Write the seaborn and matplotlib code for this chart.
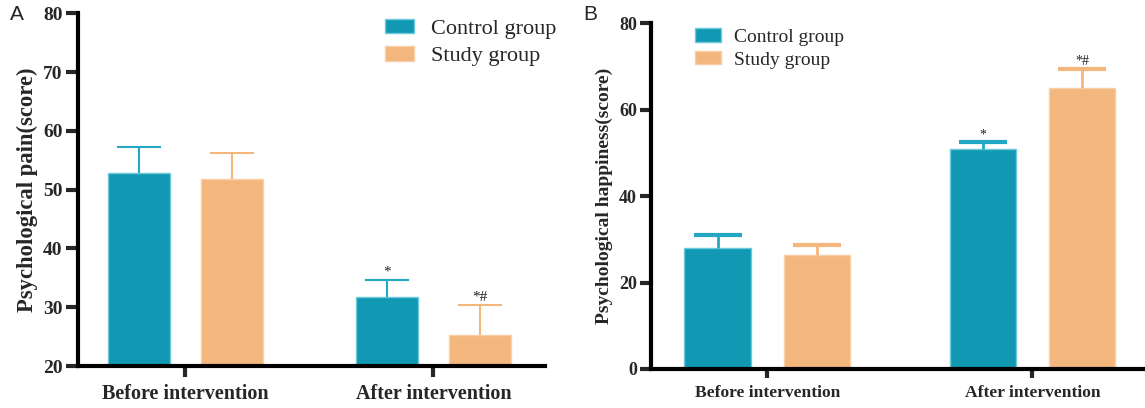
import matplotlib
matplotlib.use("Agg")
import matplotlib.pyplot as plt
import seaborn as sns
import pandas as pd
import numpy as np

# ---------------- data ----------------
timepoints = ["Before intervention", "After intervention"]
groups = ["Control group", "Study group"]

pain_control_mean = [52.9, 31.8]
pain_control_sd = [4.3, 2.8]
pain_study_mean = [51.9, 25.3]
pain_study_sd = [4.3, 5.0]

happy_control_mean = [27.9, 50.9]
happy_control_sd = [3.0, 1.6]
happy_study_mean = [26.4, 65.1]
happy_study_sd = [2.3, 4.3]

pain_marks = ["", "*", "", "*#"]      # order: control-before, control-after, study-before, study-after
happy_marks = ["", "*", "", "*#"]

colors = {"Control group": "#1199b4", "Study group": "#f3b77d"}
edge_colors = {"Control group": "#6cc9db", "Study group": "#f8cfa6"}
err_colors = {"Control group": "#22a8c2", "Study group": "#f3b77d"}


def make_df(cm, cs, sm, ss):
    rows = []
    for g, means, sds in [("Control group", cm, cs), ("Study group", sm, ss)]:
        for t, m, s in zip(timepoints, means, sds):
            rows.append({"time": t, "group": g, "mean": m, "sd": s})
    return pd.DataFrame(rows)


df_pain = make_df(pain_control_mean, pain_control_sd, pain_study_mean, pain_study_sd)
df_happy = make_df(happy_control_mean, happy_control_sd, happy_study_mean, happy_study_sd)

sns.set_style("ticks")
plt.rcParams["font.family"] = ["Liberation Serif", "DejaVu Serif"]

fig = plt.figure(figsize=(11.45, 4.08), dpi=100)

axA = fig.add_axes([0.0681, 0.1029, 0.476 - 0.0681, 0.967 - 0.1029])
axB = fig.add_axes([0.5683, 0.0956, 1.0 - 0.5683, 0.943 - 0.0956])


def draw(ax, df, marks, ylim, yticks, xlim, tick_fs, xtick_fs, ylabel, ylabel_fs,
         leg_fs, leg_anchor, handlelen, handleh, labelsp, textpad, cap_lw, err_lw,
         mark_fs, capsize, tick_len, mark_off):
    sns.barplot(data=df, x="time", y="mean", hue="group", order=timepoints,
                hue_order=groups, palette=colors, errorbar=None, width=0.75,
                gap=1 / 3, ax=ax, linewidth=1.0, saturation=1.0)
    # edges + error bars from the bar patches
    patches = [p for p in ax.patches if p.get_width() > 0][:4]
    order = [(g, t) for g in groups for t in timepoints]
    for p, (g, t), mk in zip(patches, order, marks):
        p.set_edgecolor(edge_colors[g])
        row = df[(df.group == g) & (df.time == t)].iloc[0]
        xc = p.get_x() + p.get_width() / 2
        eb = ax.errorbar(xc, row["mean"], yerr=[[0], [row["sd"]]], fmt="none",
                         ecolor=err_colors[g], elinewidth=err_lw, capsize=capsize,
                         capthick=cap_lw, zorder=1)
        caps = eb.lines[1]
        if len(caps) >= 2:
            caps[0].set_visible(False)
        if mk:
            ax.text(xc, row["mean"] + row["sd"] + mark_off, mk, ha="center",
                    va="bottom", fontsize=mark_fs, color="#222222")
    ax.set_ylim(*ylim)
    ax.set_yticks(yticks)
    ax.set_xlim(*xlim)
    ax.set_xlabel("")
    ax.set_ylabel(ylabel, fontsize=ylabel_fs, fontweight="bold", labelpad=4)
    for s in ["top", "right"]:
        ax.spines[s].set_visible(False)
    for s in ["left", "bottom"]:
        ax.spines[s].set_linewidth(3.0)
        ax.spines[s].set_color("black")
    ax.tick_params(axis="y", length=tick_len, width=3.0, labelsize=tick_fs, pad=2)
    ax.tick_params(axis="x", length=tick_len * 0.85, width=3.0, labelsize=xtick_fs, pad=5)
    for lab in ax.get_yticklabels() + ax.get_xticklabels():
        lab.set_fontweight("bold")
    h, l = ax.get_legend_handles_labels()
    leg = ax.legend(h, l, loc="upper left", bbox_to_anchor=leg_anchor,
                    frameon=False, fontsize=leg_fs, handlelength=handlelen,
                    handleheight=handleh, labelspacing=labelsp,
                    handletextpad=textpad, borderpad=0, borderaxespad=0)
    for hp, g in zip(leg.legend_handles, groups):
        hp.set_edgecolor(edge_colors[g])


draw(axA, df_pain, pain_marks, (20, 80), [20, 30, 40, 50, 60, 70, 80],
     (-0.433, 1.45), 14, 14.5, "Psychological pain(score)", 16.3,
     16, (0.657, 0.985), 1.33, 0.64, 0.32, 0.75, 1.5, 1.5, 11, 16, 9, 0.3)

draw(axB, df_happy, happy_marks, (0, 80), [0, 20, 40, 60, 80],
     (-0.44, 1.425), 13, 12.6, "Psychological happiness(score)", 14,
     14, (0.0896, 0.985), 1.34, 0.67, 0.27, 0.67, 3.0, 2.0, 10, 17, 8, 0.2)

fig.text(10 / 1145, 1 - 15 / 408, "A", family=["Liberation Sans", "DejaVu Sans"],
         fontsize=15, ha="left", va="center")
fig.text(583 / 1145, 1 - 15 / 408, "B", family=["Liberation Sans", "DejaVu Sans"],
         fontsize=15, ha="left", va="center")

fig.savefig("out.png", dpi=100)
